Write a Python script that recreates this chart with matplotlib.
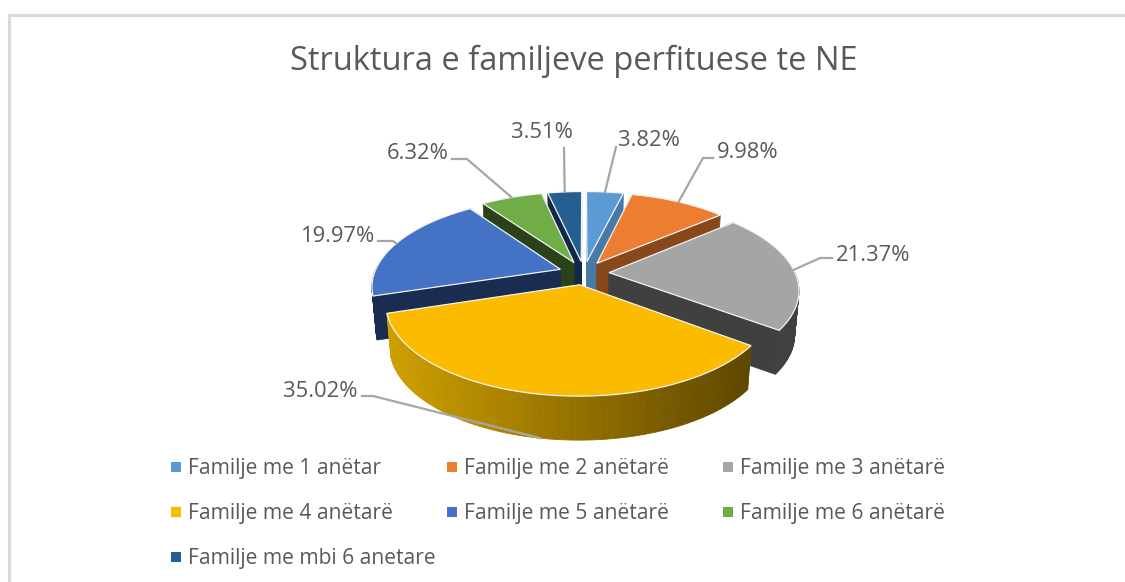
import numpy as np
import matplotlib
matplotlib.use('Agg')
import matplotlib.pyplot as plt
from matplotlib.colors import to_rgb

plt.rcParams['font.family'] = ['Open Sans', 'DejaVu Sans']

title = 'Struktura e familjeve perfituese te NE'
names = ['Familje me 1 anëtar', 'Familje me 2 anëtarë', 'Familje me 3 anëtarë',
         'Familje me 4 anëtarë', 'Familje me 5 anëtarë', 'Familje me 6 anëtarë',
         'Familje me mbi 6 anetare']
values = [3.82, 9.98, 21.37, 35.02, 19.97, 6.32, 3.51]
top_colors = ['#5b9bd5', '#ed7d31', '#a5a5a5', '#fbbc00', '#4472c4', '#70ad47', '#255e91']
side_colors = ['#467ba8', '#89481c', '#404040', '#9a7400', '#1a2c50', '#2b4119', '#10294a']

# label text position (pixels) and where its leader line starts
label_pos = [(649, 140), (748, 152.5), (873, 255.5), (320, 391.5), (337, 236.5), (418, 153.5), (542, 132.5)]
leader_pts = [[(616, 147)], [(713, 158), (703, 158)], [(832, 258), (820, 258)],
              [(362, 396), (373, 396)], [(378, 241), (393, 241)],
              [(452, 159), (467, 159)], [(564, 148)]]
legend_x = [176, 452, 728]
legend_y = [467, 512, 557]

cx, cy = 584, 273
R, S = 186, 86.5
persp = 0.18
explode = 0.135
depth = 44
shrink = 0.98


def project(X, Y):
    d = 1 + persp * Y
    return cx + R * X / d, cy - S * Y / d


def lower(px, py):
    return cx + (px - cx) * shrink, py + depth


def slice_arc(t0, t1, off, n=80):
    th = np.linspace(t0, t1, n)
    return project(np.sin(th) + off[0], np.cos(th) + off[1])


fig = plt.figure(figsize=(11.25, 5.82), dpi=100)
ax = fig.add_axes([0, 0, 1, 1])
ax.set_xlim(0, 1125)
ax.set_ylim(582, 0)
ax.axis('off')

# chart frame
ax.plot([8.5, 8.5, 1125], [582, 14.5, 14.5], color='#d9d9d9', lw=2.2, zorder=1)

fracs = np.array(values) / sum(values)
edges = np.concatenate([[0], np.cumsum(fracs)]) * 2 * np.pi
mids = (edges[:-1] + edges[1:]) / 2
offsets = [(explode * np.sin(m), explode * np.cos(m)) for m in mids]

# back to front so the nearer slices cover the others
order = sorted(range(len(values)), key=lambda i: -offsets[i][1])
for i in order:
    t0, t1 = edges[i], edges[i + 1]
    off = offsets[i]
    ax_, ay_ = project(*off)
    bx_, by_ = lower(ax_, ay_)
    xs, ys = slice_arc(t0, t1, off)
    lx, ly = lower(xs, ys)
    # radial walls
    for k in (0, -1):
        ax.fill([ax_, xs[k], lx[k], bx_], [ay_, ys[k], ly[k], by_],
                color=side_colors[i], lw=0.5, zorder=2)
    # outer wall, only the part turned to the viewer
    for k in range(len(xs) - 1):
        if np.cos((t0 + (t1 - t0) * k / (len(xs) - 1))) > 0.02:
            continue
        col = side_colors[i]
        if i == 3:
            g = (xs[k] - xs.min()) / (xs.max() - xs.min())
            col = tuple((1 - g) * np.array(to_rgb('#cfa000')) + g * np.array(to_rgb('#5f4700')))
        ax.fill([xs[k], xs[k + 1], lx[k + 1], lx[k]], [ys[k], ys[k + 1], ly[k + 1], ly[k]],
                color=col, lw=0.6, zorder=2)
    # top face
    ax.fill(np.r_[ax_, xs], np.r_[ay_, ys], facecolor=top_colors[i],
            edgecolor='#f2f2f2', lw=0.9, zorder=2)

# labels and leader lines
for i, v in enumerate(values):
    xs, ys = project(np.sin(mids[i]) + offsets[i][0], np.cos(mids[i]) + offsets[i][1])
    if np.cos(mids[i]) < -0.5:
        xs, ys = lower(xs, ys)
    pts = leader_pts[i] + [(xs, ys)]
    ax.plot([p[0] for p in pts], [p[1] for p in pts], color='#a6a6a6', lw=1.6, zorder=3)
    ax.text(label_pos[i][0], label_pos[i][1], '%.2f%%' % v, color='#595959', fontsize=15.8,
            ha='center', va='center', zorder=4)

ax.text(574, 61.5, title, color='#595959', fontsize=23.5, ha='center', va='center')

# legend, filled row by row
for i, name in enumerate(names):
    col, row = i % 3, i // 3
    ax.plot(legend_x[col], legend_y[row], marker='s', ms=6.5, color=top_colors[i], mew=0)
    ax.text(legend_x[col] + 12, legend_y[row] + 1.5, name, color='#595959', fontsize=15.1,
            ha='left', va='center')

fig.savefig('out.png', dpi=100)
